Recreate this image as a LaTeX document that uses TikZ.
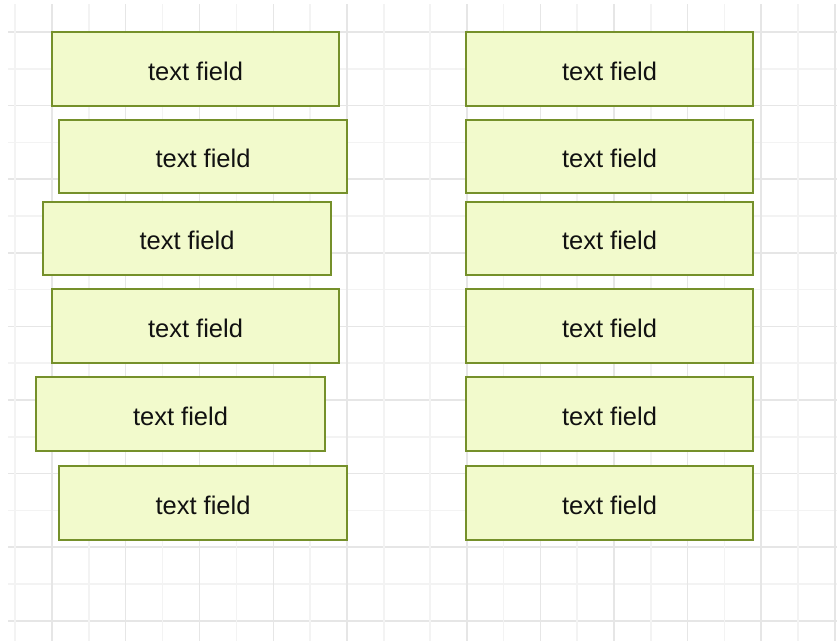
\documentclass[tikz,border=0pt]{standalone}
\usepackage{fontspec}
\setmainfont{Liberation Sans}
\definecolor{gridmajor}{HTML}{E6E6E6}
\definecolor{gridminor}{HTML}{F3F3F3}
\definecolor{fieldfill}{HTML}{F2FACC}
\definecolor{fieldline}{HTML}{75902A}
\definecolor{fieldtext}{HTML}{111111}
\tikzset{
  fieldbox/.style={draw=fieldline, fill=fieldfill, line width=2pt,
    minimum height=74pt, inner sep=0pt, text=fieldtext,
    text height=22pt, text depth=0pt,
    font=\fontsize{25.5}{30}\selectfont},
  majorline/.style={draw=gridmajor, line width=1.5pt},
  minorline/.style={draw=gridminor, line width=1.5pt}
}
\begin{document}
\begin{tikzpicture}[x=1pt, y=-1pt]
  \useasboundingbox (0,0) rectangle (837,641);
  \fill[white] (0,0) rectangle (837,641);
  % background grid: horizontal rules
  \foreach \k in {0,...,16} {
    \pgfmathsetmacro{\yy}{32+36.8*\k}
    \pgfmathparse{mod(\k,2)==0 ? 1 : 0}
    \ifnum\pgfmathresult=1
      \draw[majorline] (8,\yy) -- (837,\yy);
    \else
      \draw[minorline] (8,\yy) -- (837,\yy);
    \fi
  }
  % vertical rules, left block
  \foreach \k in {0,...,10} {
    \pgfmathsetmacro{\xx}{15+36.9*\k}
    \pgfmathparse{mod(\k,2)==1 ? 1 : 0}
    \ifnum\pgfmathresult=1
      \draw[majorline] (\xx,4) -- (\xx,641);
    \else
      \draw[minorline] (\xx,4) -- (\xx,641);
    \fi
  }
  % vertical rules, right block
  \foreach \k in {0,...,11} {
    \pgfmathsetmacro{\xx}{430+36.8*\k}
    \pgfmathparse{mod(\k,2)==1 ? 1 : 0}
    \ifnum\pgfmathresult=1
      \draw[majorline] (\xx,4) -- (\xx,641);
    \else
      \draw[minorline] (\xx,4) -- (\xx,641);
    \fi
  }
  % left column of fields
  \node[fieldbox, minimum width=287pt] (l1) at (195.5,69) {text field};
  \node[fieldbox, minimum width=288pt, minimum height=73pt] (l2) at (203,156.5) {text field};
  \node[fieldbox, minimum width=288pt, minimum height=73pt] (l3) at (187,238.5) {text field};
  \node[fieldbox, minimum width=287pt] (l4) at (195.5,326) {text field};
  \node[fieldbox, minimum width=289pt] (l5) at (180.5,414) {text field};
  \node[fieldbox, minimum width=288pt] (l6) at (203,503) {text field};
  % right column of fields
  \node[fieldbox, minimum width=287pt] (r1) at (609.5,69) {text field};
  \node[fieldbox, minimum width=287pt, minimum height=73pt] (r2) at (609.5,156.5) {text field};
  \node[fieldbox, minimum width=287pt, minimum height=73pt] (r3) at (609.5,238.5) {text field};
  \node[fieldbox, minimum width=287pt] (r4) at (609.5,326) {text field};
  \node[fieldbox, minimum width=287pt] (r5) at (609.5,414) {text field};
  \node[fieldbox, minimum width=287pt] (r6) at (609.5,503) {text field};
\end{tikzpicture}
\end{document}
